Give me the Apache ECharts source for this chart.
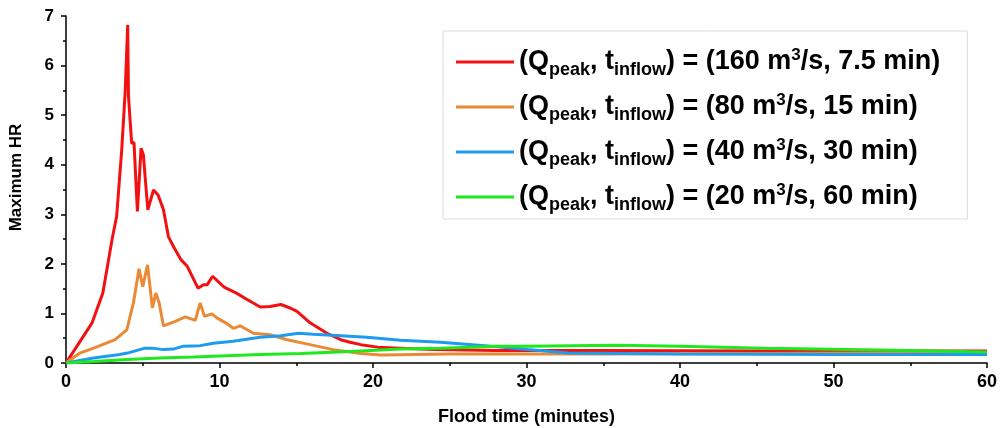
<!DOCTYPE html>
<html><head><meta charset="utf-8">
<script src="https://cdn.jsdelivr.net/npm/echarts@6/dist/echarts.min.js"></script>
<style>html,body{margin:0;padding:0;background:#fff}#c{width:1002px;height:428px}</style>
</head><body><div id="c"></div>
<script>
// Data
const redT = [0, 0.8, 1.7, 2.4, 3.0, 3.3, 3.63, 3.85, 4.02, 4.07, 4.28, 4.43, 4.65, 4.89, 5.04, 5.33, 5.7, 6.0, 6.35, 6.67, 7.0, 7.5, 7.9, 8.6, 8.96, 9.2, 9.55, 10.3, 11.1, 11.8, 12.65, 13.3, 14.0, 14.6, 15.05, 15.9, 17.0, 17.9, 18.5, 19.2, 20.3, 21.8, 24, 28, 35, 45, 60];
const redY = [0, 0.38, 0.81, 1.41, 2.49, 2.96, 4.3, 5.44, 6.82, 5.38, 4.43, 4.45, 3.06, 4.33, 4.2, 3.09, 3.49, 3.39, 3.09, 2.55, 2.35, 2.08, 1.95, 1.51, 1.58, 1.58, 1.75, 1.53, 1.41, 1.28, 1.13, 1.14, 1.18, 1.11, 1.04, 0.81, 0.6, 0.47, 0.42, 0.37, 0.32, 0.3, 0.27, 0.25, 0.25, 0.24, 0.24];
const orangeT = [0, 0.9, 1.8, 3.2, 3.96, 4.39, 4.76, 5.0, 5.31, 5.63, 5.85, 6.07, 6.35, 7.12, 7.77, 8.42, 8.74, 9.02, 9.5, 9.83, 10.4, 10.9, 11.35, 12.2, 13.3, 14.4, 15.9, 17.4, 19.2, 20.5, 25, 35, 45, 60];
const orangeY = [0, 0.2, 0.3, 0.47, 0.67, 1.21, 1.9, 1.54, 1.98, 1.11, 1.41, 1.21, 0.75, 0.84, 0.93, 0.86, 1.21, 0.94, 0.99, 0.91, 0.81, 0.7, 0.75, 0.6, 0.57, 0.47, 0.37, 0.27, 0.19, 0.16, 0.18, 0.18, 0.19, 0.21];
const blueT = [0, 1.8, 3.5, 4.0, 5.15, 5.6, 6.35, 7.0, 7.65, 8.74, 9.6, 10.9, 12.65, 14.0, 15.15, 16.1, 17.9, 19.6, 21.8, 24.4, 28.1, 30.1, 32.7, 40, 50, 60];
const blueY = [0, 0.1, 0.17, 0.2, 0.3, 0.3, 0.27, 0.28, 0.34, 0.35, 0.4, 0.44, 0.52, 0.55, 0.6, 0.58, 0.55, 0.52, 0.46, 0.42, 0.33, 0.27, 0.2, 0.18, 0.17, 0.17];
const greenT = [0, 1.8, 4.0, 6.1, 8.3, 12.65, 15.3, 18.5, 21.8, 24.4, 28.1, 30.1, 35.8, 40, 45.5, 53, 60];
const greenY = [0, 0.03, 0.07, 0.1, 0.12, 0.17, 0.19, 0.23, 0.28, 0.3, 0.34, 0.34, 0.36, 0.34, 0.3, 0.26, 0.22];
const seriesNames = ['s160', 's80', 's40', 's20'];
const seriesQ = ['160', '80', '40', '20'];
const seriesTin = ['7.5', '15', '30', '60'];
const xTitle = 'Flood time (minutes)';
const yTitle = 'Maximum HR';

const colors = ['#f21010', '#ea8936', '#1d9bf0', '#1ee81e'];
const pairs = (t, y) => t.map((v, i) => [v, y[i]]);
const allData = [pairs(redT, redY), pairs(orangeT, orangeY), pairs(blueT, blueY), pairs(greenT, greenY)];
const FONT = '"Liberation Sans", Arial, sans-serif';

const chart = echarts.init(document.getElementById('c'), null, {renderer: 'canvas'});
chart.setOption({
  animation: false,
  backgroundColor: '#fff',
  grid: {left: 66, right: 15, top: 16, bottom: 65, containLabel: false, outerBoundsMode: 'none'},
  xAxis: {
    type: 'value', min: 0, max: 60, interval: 10,
    name: xTitle, nameLocation: 'middle', nameGap: 45,
    nameTextStyle: {fontFamily: FONT, fontWeight: 'bold', fontSize: 18, color: '#000'},
    axisLine: {lineStyle: {color: '#000', width: 1.5}},
    axisTick: {show: true, length: 5, lineStyle: {color: '#000', width: 1.5}},
    minorTick: {show: true, splitNumber: 2, length: 3, lineStyle: {color: '#000', width: 1.5}},
    axisLabel: {fontFamily: FONT, fontWeight: 'bold', fontSize: 18, color: '#000', margin: 10},
    splitLine: {show: false}
  },
  yAxis: {
    type: 'value', min: 0, max: 7, interval: 1,
    name: yTitle, nameLocation: 'middle', nameGap: 41, nameRotate: 90,
    nameTextStyle: {fontFamily: FONT, fontWeight: 'bold', fontSize: 17, color: '#000', padding: [0, 0, 0, 24]},
    axisLine: {show: true, lineStyle: {color: '#000', width: 1.5}},
    axisTick: {show: true, length: 5, lineStyle: {color: '#000', width: 1.5}},
    minorTick: {show: true, splitNumber: 2, length: 3, lineStyle: {color: '#000', width: 1.5}},
    axisLabel: {fontFamily: FONT, fontWeight: 'bold', fontSize: 17, color: '#000', margin: 12},
    splitLine: {show: false}
  },
  legend: {
    orient: 'vertical', left: 443, top: 31,
    padding: [14, 27, 5, 13],
    itemGap: 11, itemWidth: 58, itemHeight: 3,
    icon: 'rect',
    borderColor: '#dcdcdc', borderWidth: 1,
    data: seriesNames,
    formatter: function (name) {
      const i = seriesNames.indexOf(name);
      return '{n|(Q}{sub|peak}{n|, t}{sub|inflow}{n|) = (' + seriesQ[i] + ' m}{sup|3}{n|/s, ' + seriesTin[i] + ' min)}';
    },
    textStyle: {
      fontFamily: FONT, fontWeight: 'bold', fontSize: 27, color: '#000',
      rich: {
        n: {fontFamily: FONT, fontWeight: 'bold', fontSize: 27, lineHeight: 34, verticalAlign: 'middle', color: '#000'},
        sub: {fontFamily: FONT, fontWeight: 'bold', fontSize: 18, lineHeight: 18, verticalAlign: 'bottom', color: '#000'},
        sup: {fontFamily: FONT, fontWeight: 'bold', fontSize: 17, lineHeight: 17, verticalAlign: 'top', padding: [2, 0, 0, 0], color: '#000'}
      }
    }
  },
  series: seriesNames.map((nm, i) => ({
    name: nm, type: 'line', data: allData[i],
    showSymbol: false, symbol: 'none',
    lineStyle: {color: colors[i], width: 3},
    itemStyle: {color: colors[i]},
    z: 2 + i
  }))
});
</script>
</body></html>
